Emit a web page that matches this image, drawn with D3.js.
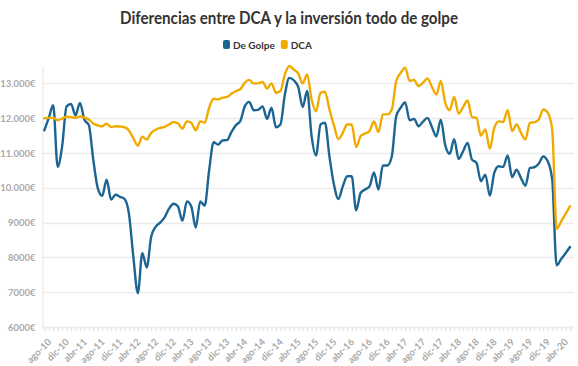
<!DOCTYPE html>
<html>
<head>
<meta charset="utf-8">
<script src="https://cdn.jsdelivr.net/npm/d3@7"></script>
<style>
	body { margin: 0; background: #fff; }
	svg { display: block; font-family: "Lato", "Open Sans", sans-serif; }
</style>
</head>
<body>
<div id="chart"></div>
<script>
// monthly categories, ago-10 .. jun-20
var categories = [
	"ago-10","sep-10","oct-10","nov-10","dic-10",
	"ene-11","feb-11","mar-11","abr-11","may-11","jun-11","jul-11","ago-11","sep-11","oct-11","nov-11","dic-11",
	"ene-12","feb-12","mar-12","abr-12","may-12","jun-12","jul-12","ago-12","sep-12","oct-12","nov-12","dic-12",
	"ene-13","feb-13","mar-13","abr-13","may-13","jun-13","jul-13","ago-13","sep-13","oct-13","nov-13","dic-13",
	"ene-14","feb-14","mar-14","abr-14","may-14","jun-14","jul-14","ago-14","sep-14","oct-14","nov-14","dic-14",
	"ene-15","feb-15","mar-15","abr-15","may-15","jun-15","jul-15","ago-15","sep-15","oct-15","nov-15","dic-15",
	"ene-16","feb-16","mar-16","abr-16","may-16","jun-16","jul-16","ago-16","sep-16","oct-16","nov-16","dic-16",
	"ene-17","feb-17","mar-17","abr-17","may-17","jun-17","jul-17","ago-17","sep-17","oct-17","nov-17","dic-17",
	"ene-18","feb-18","mar-18","abr-18","may-18","jun-18","jul-18","ago-18","sep-18","oct-18","nov-18","dic-18",
	"ene-19","feb-19","mar-19","abr-19","may-19","jun-19","jul-19","ago-19","sep-19","oct-19","nov-19","dic-19",
	"ene-20","feb-20","mar-20","abr-20","may-20","jun-20"
];

// labels shown on the x axis
var xTickLabels = [
	"ago-10","dic-10","abr-11","ago-11","dic-11","abr-12","ago-12","dic-12",
	"abr-13","ago-13","dic-13","abr-14","ago-14","dic-14","abr-15","ago-15",
	"dic-15","abr-16","ago-16","dic-16","abr-17","ago-17","dic-17","abr-18",
	"ago-18","dic-18","abr-19","ago-19","dic-19","abr-20"
];

var yTickValues = [6000, 7000, 8000, 9000, 10000, 11000, 12000, 13000];

var seriesNames = ["De Golpe", "DCA"];

var deGolpe = [
	11650, 12000, 12370, 10600, 11190, 12340, 12410, 12080, 12440, 11960,
	11800, 10800, 9990, 9770, 10230, 9660, 9800, 9740, 9680, 9250,
	8000, 6970, 8120, 7710, 8600, 8880, 9000, 9150, 9400, 9540,
	9460, 9050, 9610, 9460, 8860, 9610, 9490, 10500, 11310, 11240,
	11360, 11370, 11600, 11800, 11920, 12340, 12470, 12230, 12240, 12340,
	11980, 12300, 11740, 11820, 12680, 13160, 13090, 12900, 12320, 12780,
	11480, 10930, 11820, 11870, 10900, 10100, 9680, 10040, 10330, 10330,
	9350, 9850, 9950, 10040, 10440, 9950, 10640, 10640, 10900, 12060,
	12300, 12450, 11940, 11980, 11770, 11900, 12010, 11750, 11480, 11960,
	11220, 10980, 11400, 10830, 11050, 11290, 10810, 10720, 10190, 10380,
	9770, 10430, 10620, 10600, 10930, 10310, 10520, 10280, 10060, 10570,
	10590, 10700, 10900, 10760, 10240, 7770, 7950, 8120, 8300
];

var dca = [
	12000, 12010, 12010, 11940, 11990, 12040, 12030, 12010, 12050, 12020,
	11960, 11850, 11790, 11770, 11840, 11750, 11770, 11760, 11740, 11650,
	11420, 11210, 11470, 11390, 11580, 11670, 11720, 11750, 11820, 11890,
	11850, 11700, 11910, 11870, 11650, 11910, 11870, 12300, 12560, 12540,
	12590, 12610, 12700, 12780, 12830, 13020, 13100, 13000, 13000, 13040,
	12850, 13000, 12730, 12780, 13260, 13500, 13400, 13290, 13000, 13260,
	12540, 12200, 12730, 12760, 12250, 11800, 11400, 11580, 11820, 11820,
	11170, 11480, 11560, 11630, 11910, 11600, 12110, 12110, 12250, 13070,
	13300, 13450, 13070, 13100, 12920, 13020, 13140, 12900, 12680, 13070,
	12440, 12230, 12610, 12130, 12320, 12510, 12030, 12010, 11500, 11680,
	11120, 11720, 11910, 11890, 12230, 11630, 11820, 11580, 11390, 11870,
	11880, 11960, 12250, 12160, 11680, 8820, 9030, 9250, 9470
];

var COLORS = ["#1c6593", "#f1ab00"];
var AXIS_TEXT = "#a9a9a9";
var GRID = "#ececec";

var width = 578;
var height = 366;
var plot = { left: 42, right: 574, top: 66, bottom: 327 };

var svg = d3.select("#chart").append("svg")
	.attr("width", width)
	.attr("height", height);

// title (fitted to the width of the original narrow face)
svg.append("text")
	.attr("x", width / 2)
	.attr("y", 24)
	.attr("text-anchor", "middle")
	.attr("font-size", 16.5)
	.attr("font-weight", "bold")
	.attr("fill", "#333")
	.attr("textLength", 338)
	.attr("lengthAdjust", "spacingAndGlyphs")
	.text("Diferencias entre DCA y la inversión todo de golpe");

// legend
var legend = svg.append("g").attr("transform", "translate(223,40)");
var lx = 0;
seriesNames.forEach(function (name, i) {
	var item = legend.append("g").attr("transform", "translate(" + lx + ",0)");
	item.append("rect")
		.attr("width", 7)
		.attr("height", 9)
		.attr("rx", 2)
		.attr("ry", 2)
		.attr("fill", COLORS[i]);
	var t = item.append("text")
		.attr("x", 10)
		.attr("y", 8.5)
		.attr("font-size", 10)
		.attr("font-weight", "bold")
		.attr("fill", "#333")
		.text(name);
	lx += 10 + t.node().getComputedTextLength() + 6;
});

// scales
var x = d3.scalePoint()
	.domain(categories)
	.range([44.3, 570]);

var y = d3.scaleLinear()
	.domain([6000, 13500])
	.range([plot.bottom, plot.top]);

// grid lines
svg.append("g")
	.selectAll("line")
	.data(yTickValues)
	.join("line")
	.attr("x1", plot.left)
	.attr("x2", plot.right)
	.attr("y1", function (d) { return Math.round(y(d)) + 0.5; })
	.attr("y2", function (d) { return Math.round(y(d)) + 0.5; })
	.attr("stroke", GRID)
	.attr("stroke-width", 1.3);

// y axis
var fmt = function (d) {
	// spanish style: thousands separator only from 5 digits
	return (d >= 10000 ? d3.format(",")(d).replace(/,/g, ".") : String(d)) + "€";
};
var yAxis = svg.append("g")
	.attr("transform", "translate(" + (plot.left + 0.5) + ",0)")
	.call(d3.axisLeft(y).tickValues(yTickValues).tickFormat(fmt).tickSize(0).tickPadding(7));
yAxis.select(".domain").attr("stroke", GRID).attr("stroke-width", 1.3);
yAxis.selectAll("text")
	.attr("fill", AXIS_TEXT)
	.attr("font-size", 9.5)
	.attr("font-weight", "bold")
	.attr("font-family", "Lato, sans-serif");

// x axis: a tick per month
var xTicks = svg.append("g")
	.attr("transform", "translate(0," + (plot.bottom + 0.5) + ")")
	.call(d3.axisBottom(x).tickSize(4).tickFormat(""));
xTicks.select(".domain").attr("d", "M" + plot.left + ",0H" + plot.right).attr("stroke", GRID).attr("stroke-width", 1.3);
xTicks.selectAll(".tick line").attr("stroke", "#e3e3e3");

// x axis labels
var xLabels = svg.append("g")
	.attr("transform", "translate(0," + (plot.bottom + 0.5) + ")")
	.call(d3.axisBottom(x).tickValues(xTickLabels).tickSize(0));
xLabels.select(".domain").remove();
xLabels.selectAll("text")
	.attr("fill", AXIS_TEXT)
	.attr("font-size", 9.5)
	.attr("font-weight", "bold")
	.attr("font-family", "Lato, sans-serif")
	.attr("text-anchor", "end")
	.attr("dy", "0.3em")
	.attr("transform", "translate(3,11) rotate(-45)");

// lines
var line = d3.line()
	.x(function (d, i) { return x(categories[i]); })
	.y(function (d) { return y(d); })
	.curve(d3.curveMonotoneX);

[deGolpe, dca].forEach(function (values, i) {
	svg.append("path")
		.datum(values)
		.attr("fill", "none")
		.attr("stroke", COLORS[i])
		.attr("stroke-width", 2.4)
		.attr("stroke-linejoin", "round")
		.attr("stroke-linecap", "round")
		.attr("d", line);
});
</script>
</body>
</html>
